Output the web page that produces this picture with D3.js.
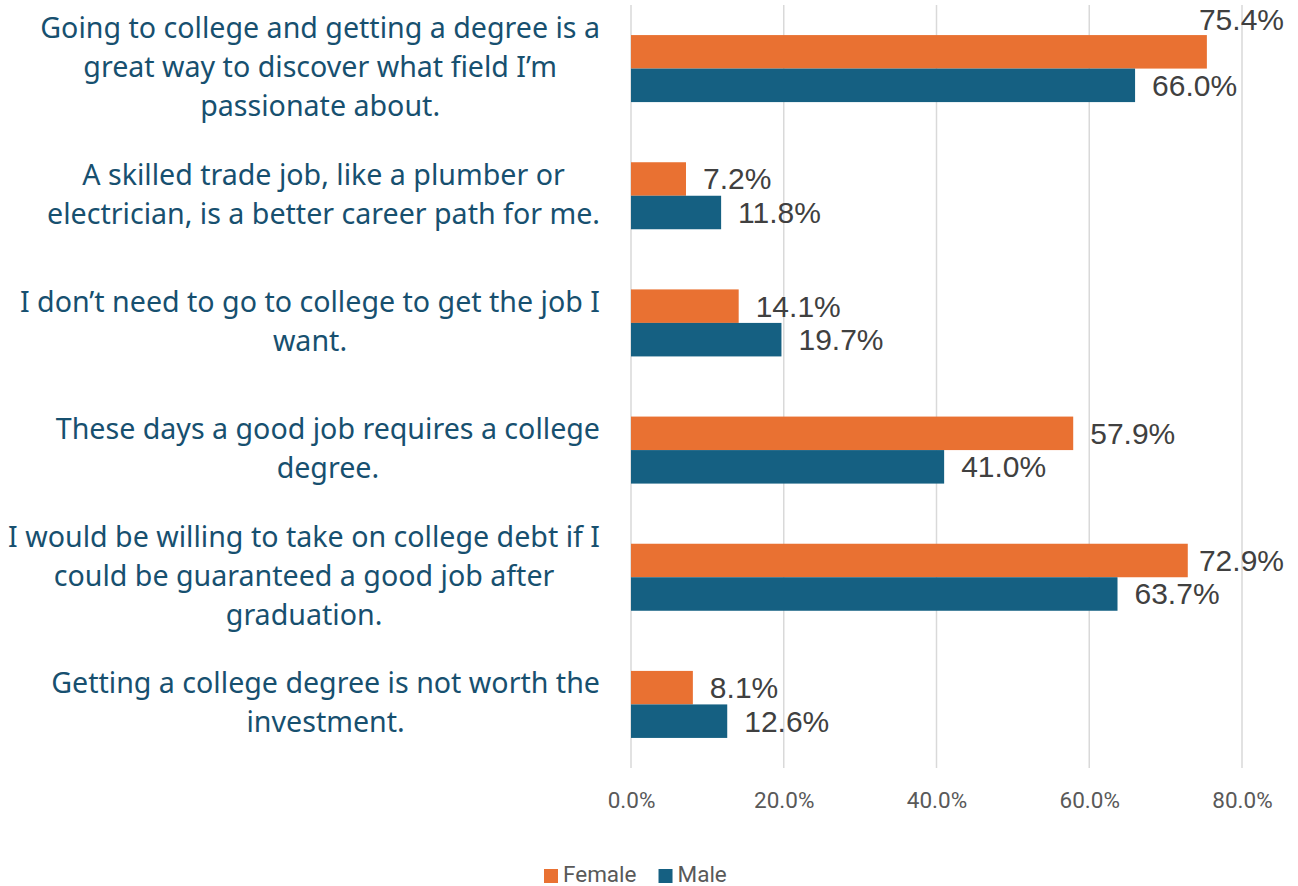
<!DOCTYPE html>
<html>
<head>
<meta charset="utf-8">
<script src="https://cdn.jsdelivr.net/npm/d3@7"></script>
<style>
  html, body { margin: 0; padding: 0; background: #ffffff; }
  svg { display: block; }
</style>
</head>
<body>
<svg id="chart" width="1298" height="886"></svg>
<script>
// Survey statements (wrapped as they appear on the axis)
const statements = [
  ["Going to college and getting a degree is a", "great way to discover what field I\u2019m", "passionate about."],
  ["A skilled trade job, like a plumber or", "electrician, is a better career path for me."],
  ["I don\u2019t need to go to college to get the job I", "want."],
  ["These days a good job requires a college", "degree."],
  ["I would be willing to take on college debt if I", "could be guaranteed a good job after", "graduation."],
  ["Getting a college degree is not worth the", "investment."]
];
const seriesNames = ["Female", "Male"];
const female = [0.754, 0.072, 0.141, 0.579, 0.729, 0.081];
const male   = [0.660, 0.118, 0.197, 0.410, 0.637, 0.126];
const xTicks = [0, 0.2, 0.4, 0.6, 0.8];

const colors = { Female: "#e97132", Male: "#156082" };

const W = 1298, H = 886;
const plot = { left: 631, right: 1242, top: 5, bottom: 768 };
const labelRight = 600;
const catFont = "'Noto Sans', sans-serif";
const tickFont = "Roboto, 'Noto Sans', sans-serif";
const valFont = "'Liberation Sans', Arial, sans-serif";

const svg = d3.select("#chart");

const rows = statements.map((lines, i) => ({
  key: "s" + i, lines, values: { Female: female[i], Male: male[i] }
}));

const x = d3.scaleLinear().domain([0, 0.8]).range([plot.left, plot.right]);
const y0 = d3.scaleBand().domain(rows.map(r => r.key))
  .range([plot.top, plot.bottom]).paddingInner(0.473).paddingOuter(0.2365);
const y1 = d3.scaleBand().domain(seriesNames).range([0, y0.bandwidth()]);

// Vertical gridlines
svg.append("g").selectAll("line").data(xTicks).join("line")
  .attr("x1", d => x(d)).attr("x2", d => x(d))
  .attr("y1", plot.top).attr("y2", plot.bottom)
  .attr("stroke", "#d9d9d9").attr("stroke-width", 1.5);

// X axis tick labels
const xAxis = d3.axisBottom(x).tickValues(xTicks).tickFormat(d3.format(".1%")).tickSize(0).tickPadding(0);
const gx = svg.append("g").attr("transform", `translate(0, 800)`).call(xAxis);
gx.select(".domain").remove();
gx.selectAll("text")
  .attr("dy", "0.35em").attr("y", 0)
  .attr("font-family", tickFont).attr("font-size", 22.5).attr("fill", "#595959");

// Bars
const groups = svg.append("g").selectAll("g").data(rows).join("g")
  .attr("transform", d => `translate(0, ${y0(d.key)})`);

groups.selectAll("rect").data(d => seriesNames.map(s => ({ s, v: d.values[s] }))).join("rect")
  .attr("x", x(0))
  .attr("y", d => y1(d.s))
  .attr("width", d => x(d.v) - x(0))
  .attr("height", y1.bandwidth())
  .attr("fill", d => colors[d.s]);

// Value labels, kept inside the chart area
const labelMaxRight = 1284;
groups.selectAll("text.val").data(d => seriesNames.map(s => ({ s, v: d.values[s] }))).join("text")
  .attr("class", "val")
  .attr("font-family", valFont).attr("font-size", 30).attr("fill", "#404040")
  .attr("dy", "0.35em")
  .text(d => d3.format(".1%")(d.v))
  .each(function (d) {
    const t = d3.select(this);
    const w = this.getComputedTextLength();
    const end = x(d.v);
    let lx = end + 17;
    let ly = y1(d.s) + y1.bandwidth() / 2;
    if (lx + w > labelMaxRight) {
      lx = labelMaxRight - w;
      if (lx < end + 4) ly = y1(d.s) - y1.bandwidth() / 2 + 1;
    }
    t.attr("x", lx).attr("y", ly);
  });

// Category labels: lines centred within a right-aligned block
const lineStep = 39;
svg.append("g").selectAll("g").data(rows).join("g")
  .each(function (d) {
    const g = d3.select(this);
    const cy = y0(d.key) + y0.bandwidth() / 2;
    const texts = g.selectAll("text").data(d.lines).join("text")
      .attr("font-family", catFont).attr("font-size", 28.6).attr("fill", "#17506f")
      .attr("text-anchor", "middle").attr("dy", "0.35em")
      .attr("y", (l, i) => cy - 1.5 + (i - (d.lines.length - 1) / 2) * lineStep)
      .text(l => l);
    let maxW = 0;
    texts.each(function () { maxW = Math.max(maxW, this.getComputedTextLength()); });
    texts.attr("x", labelRight - maxW / 2);
  });

// Legend
const legend = svg.append("g").attr("transform", "translate(544, 875)");
let lxPos = 0;
seriesNames.forEach(s => {
  const item = legend.append("g").attr("transform", `translate(${lxPos}, 0)`);
  item.append("rect").attr("x", 0).attr("y", -6).attr("width", 14).attr("height", 14).attr("fill", colors[s]);
  const t = item.append("text").attr("x", 19).attr("y", -1).attr("dy", "0.35em")
    .attr("font-family", tickFont).attr("font-size", 22.5).attr("fill", "#595959").text(s);
  lxPos += 19 + t.node().getComputedTextLength() + 22;
});
</script>
</body>
</html>
